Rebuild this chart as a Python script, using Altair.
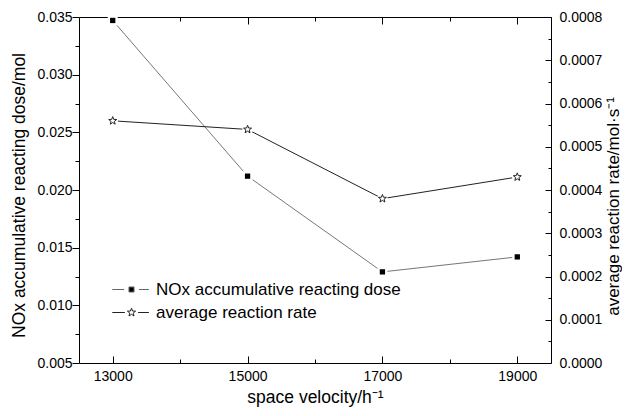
import math
import altair as alt
import pandas as pd

# ---------------- data ----------------
space_velocity = [13000, 15000, 17000, 19000]
nox_dose = [0.0347, 0.0212, 0.0129, 0.0142]
reaction_rate = [0.00056, 0.00054, 0.00038, 0.00043]
series_names = ["NOx accumulative reacting dose", "average reaction rate"]

x_major = [13000, 15000, 17000, 19000]
x_minor = [14000, 16000, 18000]
yl_major = [0.005, 0.010, 0.015, 0.020, 0.025, 0.030, 0.035]
yl_minor = [0.0075, 0.0125, 0.0175, 0.0225, 0.0275, 0.0325]
yr_major = [0.0, 0.0001, 0.0002, 0.0003, 0.0004, 0.0005, 0.0006, 0.0007, 0.0008]
yr_minor = [0.00005, 0.00015, 0.00025, 0.00035, 0.00045, 0.00055, 0.00065, 0.00075]

df = pd.DataFrame({"sv": space_velocity, "nox": nox_dose, "rate": reaction_rate})
legend_df = pd.DataFrame({"series": series_names})

FONT = "Liberation Sans"
W, H = 472, 346


def star_path(R, r, cx=0.0):
    pts = []
    for i in range(10):
        a = -math.pi / 2 + i * math.pi / 5
        rad = R if i % 2 == 0 else r
        pts.append(f"{cx + rad * math.cos(a):.3f},{rad * math.sin(a):.3f}")
    return "M" + "L".join(pts) + "Z"


STAR = star_path(1.0, 0.42)
LEG_SQ = "M-3.2,0H-1.25M1.25,0H2.9M-0.42,-0.42H0.42V0.42H-0.42Z"
LEG_STAR = "M-3.2,0H-1.1M1.1,0H2.9" + star_path(0.72, 0.3)

xs = alt.Scale(domain=[12500, 19500], nice=False, zero=False)
yl = alt.Scale(domain=[0.005, 0.035], nice=False, zero=False)
yr = alt.Scale(domain=[0.0, 0.0008], nice=False, zero=False)


def ax(**kw):
    base = dict(domain=False, grid=False, tickColor="black", tickWidth=1,
                labelFont=FONT, labelFontSize=14, labelColor="black",
                titleFont=FONT, titleFontSize=17.5, titleColor="black",
                titleFontWeight="normal")
    base.update(kw)
    return alt.Axis(**base)


base = alt.Chart(df)

nox_line = base.mark_line(color="#666666", strokeWidth=0.9).encode(
    x=alt.X("sv:Q", scale=xs, axis=ax(
        orient="bottom", values=x_major, tickSize=7, offset=-7, labelPadding=6,
        format="d", title="space velocity/h⁻¹", titleX=W / 2, titleY=46,
        titleBaseline="alphabetic", titleAlign="center")),
    y=alt.Y("nox:Q", scale=yl, axis=ax(
        orient="left", values=yl_major, tickSize=7, labelPadding=0, format=".3f",
        title="NOx accumulative reacting dose/mol", titleX=-51, titleY=178,
        titleAngle=270, titleBaseline="bottom", titleAlign="center")),
)

nox_halo = base.mark_point(shape="square", filled=True, color="white", opacity=1, size=100).encode(
    x=alt.X("sv:Q", scale=xs, axis=ax(
        orient="bottom", values=x_minor, tickSize=4, offset=-4, labels=False, title=None)),
    y=alt.Y("nox:Q", scale=yl, axis=ax(
        orient="left", values=yl_minor, tickSize=4, labels=False, title=None)),
)

nox_pts = base.mark_point(shape="square", filled=True, color="black", opacity=1, size=28).encode(
    x=alt.X("sv:Q", scale=xs, axis=None),
    y=alt.Y("nox:Q", scale=yl, axis=None),
)

rate_line = base.mark_line(color="#222222", strokeWidth=1).encode(
    x=alt.X("sv:Q", scale=xs, axis=ax(
        orient="top", values=x_major, tickSize=7, offset=-7, labels=False, title=None)),
    y=alt.Y("rate:Q", scale=yr, axis=ax(
        orient="right", values=yr_major, tickSize=6, offset=-6, labelPadding=8,
        format=".4f", title="average reaction rate/mol·s⁻¹", titleFontSize=17,
        titleX=73, titleY=189, titleAngle=270, titleBaseline="alphabetic",
        titleAlign="center")),
)

rate_halo = base.mark_point(shape="circle", filled=True, color="white", opacity=1, size=113).encode(
    x=alt.X("sv:Q", scale=xs, axis=ax(
        orient="top", values=x_minor, tickSize=4, offset=-4, labels=False, title=None)),
    y=alt.Y("rate:Q", scale=yr, axis=ax(
        orient="right", values=yr_minor, tickSize=3, offset=-3, labels=False, title=None)),
)

rate_pts = base.mark_point(shape=STAR, fill="white", stroke="#222222", strokeWidth=1,
                           opacity=1, size=70).encode(
    x=alt.X("sv:Q", scale=xs, axis=None),
    y=alt.Y("rate:Q", scale=yr, axis=None),
)

leg = alt.Legend(orient="none", legendX=44, legendY=264, title=None,
                 labelFont=FONT, labelFontSize=17, labelColor="black", labelLimit=0,
                 labelOffset=16, symbolSize=144, symbolStrokeWidth=1, rowPadding=5,
                 symbolOpacity=1, padding=0)

legend_layer = alt.Chart(legend_df).mark_point(filled=True, opacity=0).encode(
    shape=alt.Shape("series:N", scale=alt.Scale(domain=series_names, range=[LEG_SQ, LEG_STAR]), legend=leg),
    fill=alt.Fill("series:N", scale=alt.Scale(domain=series_names, range=["black", "white"]), legend=leg),
    stroke=alt.Stroke("series:N", scale=alt.Scale(domain=series_names, range=["#666666", "#222222"]), legend=leg),
)

chart = (
    alt.layer(nox_line, nox_halo, nox_pts, rate_line, rate_halo, rate_pts, legend_layer)
    .resolve_scale(y="independent")
    .resolve_axis(x="independent", y="independent")
    .properties(width=W, height=H, autosize=alt.AutoSizeParams(type="none"),
                padding={"left": 71, "top": 9, "right": 71, "bottom": 45})
    .configure(font=FONT)
    .configure_view(stroke="black", strokeWidth=1)
)

chart.save("out.html", embed_options={"renderer": "svg", "actions": False})
